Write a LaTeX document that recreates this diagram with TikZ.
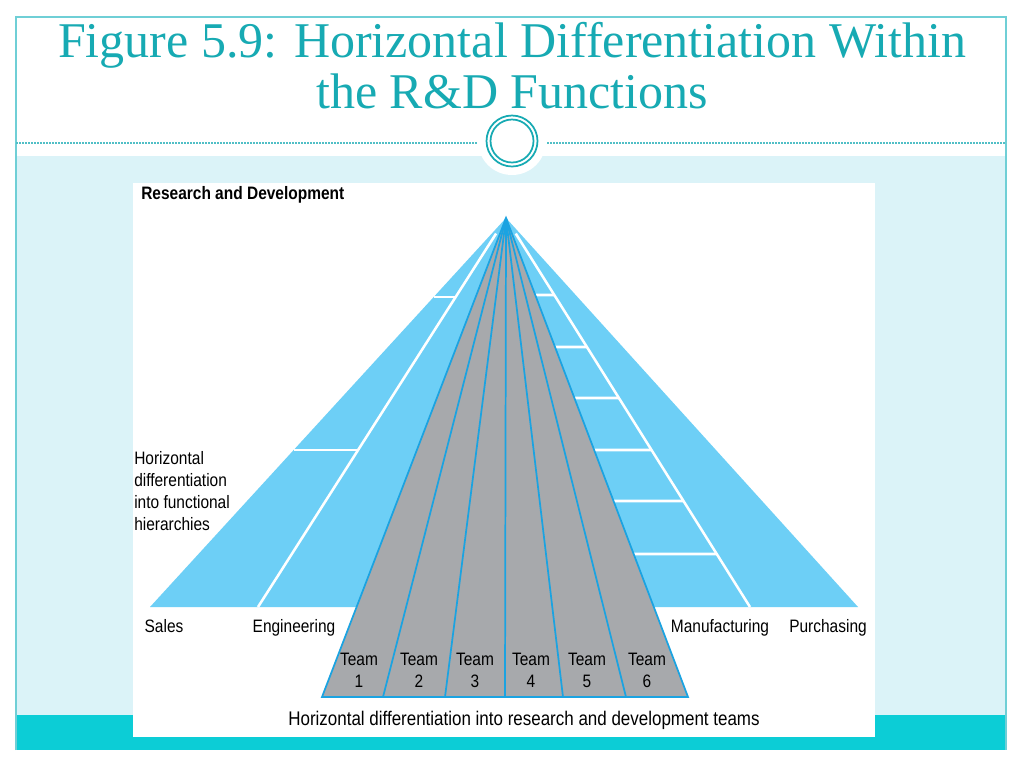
\documentclass[tikz,border=0pt]{standalone}
\usepackage{fontspec}
\setmainfont{Liberation Serif}
\newfontfamily\labelfont[FakeStretch=0.86]{Liberation Sans}
\usepackage{xcolor}
\usepackage{tikz}
\usetikzlibrary{calc}
\definecolor{slideteal}{HTML}{17AAB3}
\definecolor{frameline}{HTML}{6FCFD6}
\definecolor{paleband}{HTML}{DBF3F8}
\definecolor{footband}{HTML}{0CCDD6}
\definecolor{skyfill}{HTML}{6DCFF6}
\definecolor{teamgrey}{HTML}{A7A9AC}
\definecolor{teamline}{HTML}{1BA3E1}

\begin{document}
\begin{tikzpicture}[x=0.75pt,y=-0.75pt,
 lbl/.style={font=\labelfont\fontsize{13.5}{16.5}\selectfont,inner sep=0pt},
 team/.style={lbl,align=center,anchor=base},
 title/.style={font=\fontsize{37.5}{38}\selectfont,text=slideteal,anchor=base,inner sep=0pt},
 divider/.style={draw=white,line width=1.9pt},
 teamdiv/.style={draw=teamline,line width=1.3pt}]
\useasboundingbox (0,0) rectangle (1024,768);
\fill[white] (0,0) rectangle (1024,768);
% slide background
\fill[paleband] (16,156) rectangle (1006,715);
\fill[footband] (16,715) rectangle (1006,750);
\draw[frameline,line width=1.1pt] (16,750) -- (16,17) -- (1006,17) -- (1006,750);
\draw[slideteal!75,dash pattern=on 1.5pt off 0.75pt,line width=0.8pt] (16,143) -- (1006,143);
\fill[white] (512,141) circle[radius=34];
\draw[slideteal,line width=1.3pt] (512,141) circle[radius=25.5] (512,141) circle[radius=21.5];
\node[title] (t1) at (512,57) {Figure 5.9: Horizontal Differentiation Within};
\node[title] (t2) at (512,108) {the R\&D Functions};
% figure panel
\fill[white] (133,183) rectangle (875,737);
\coordinate (apex) at (506,218);
\coordinate (bl) at (150,607);
\coordinate (br) at (858,607);
\coordinate (sl) at (258,607);
\coordinate (sr) at (750,607);
\coordinate (gl) at (322,697);
\coordinate (gr) at (688,697);
\fill[skyfill] (apex) -- (bl) -- (br) -- cycle;
\draw[divider] ($(apex)!.04!(sl)$) -- (sl);
\draw[divider] ($(apex)!.04!(sr)$) -- (sr);
\foreach \y in {297,450}
  \draw[divider] ($(apex)!{(\y-218)/389}!(bl)$) -- ($(apex)!{(\y-218)/389}!(sl)$);
\foreach \y in {295,347,398,450,501,554}
  \draw[divider] ($(apex)!{(\y-218)/479}!(gr)$) -- ($(apex)!{(\y-218)/389}!(sr)$);
% research teams
\filldraw[fill=teamgrey,draw=teamline,line width=1.3pt] (apex) -- (gl) -- (gr) -- cycle;
\foreach \x in {383,445,505,563,626}
  \draw[teamdiv] (apex) -- (\x,697);
\foreach \n/\x in {1/359,2/419,3/475,4/531,5/587,6/647}
  \node[team] (team\n) at (\x,687) {Team\\\n};
% labels
\node[lbl,anchor=base west,font=\labelfont\bfseries\fontsize{13.5}{16.5}\selectfont] (rd) at (141,199) {Research and Development};
\node[lbl,anchor=west,align=left] (hier) at (134,491) {Horizontal\\differentiation\\into functional\\hierarchies};
\node[lbl,anchor=base] (sales) at (164,632) {Sales};
\node[lbl,anchor=base] (eng) at (294,632) {Engineering};
\node[lbl,anchor=base] (manu) at (720,632) {Manufacturing};
\node[lbl,anchor=base] (purch) at (828,632) {Purchasing};
\node[lbl,anchor=base,font=\labelfont\fontsize{14.8}{17}\selectfont] (cap) at (524,725) {Horizontal differentiation into research and development teams};
\end{tikzpicture}
\end{document}
